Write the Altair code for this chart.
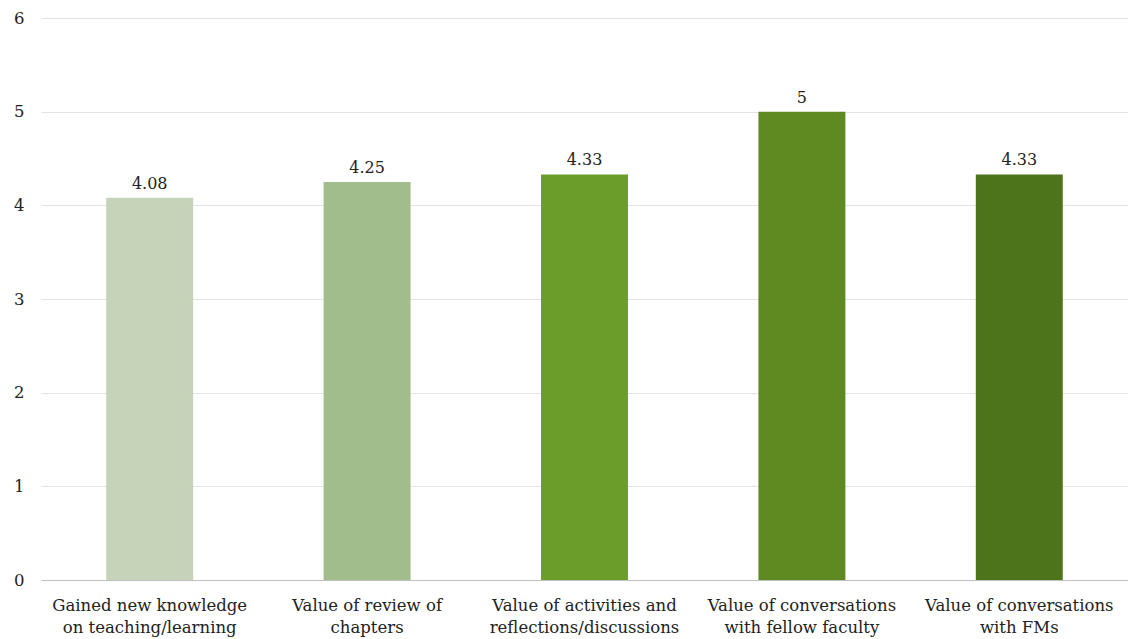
import altair as alt
import pandas as pd

# Survey items (two-line labels) and their mean ratings
categories = [
    "Gained new knowledge\non teaching/learning",
    "Value of review of\nchapters",
    "Value of activities and\nreflections/discussions",
    "Value of conversations\nwith fellow faculty",
    "Value of conversations\nwith FMs",
]
ratings = [4.08, 4.25, 4.33, 5, 4.33]
value_labels = ["4.08", "4.25", "4.33", "5", "4.33"]
bar_colors = ["#c5d3b8", "#a1bd8b", "#6a9e28", "#5e8a21", "#4e741b"]

df = pd.DataFrame({
    "item": categories,
    "rating": ratings,
    "label": value_labels,
    "color": bar_colors,
})

FONT = "DejaVu Serif"

x_enc = alt.X(
    "item:N",
    sort=categories,
    scale=alt.Scale(paddingInner=0.6, paddingOuter=0.3),
    axis=alt.Axis(
        title=None,
        labelAngle=0,
        labelExpr="split(datum.label, '\\n')",
        labelFont=FONT,
        labelFontSize=16.5,
        labelColor="#222222",
        labelPadding=17,
        labelLineHeight=22,
        ticks=False,
        grid=False,
        domainColor="#bfbfbf",
        domainWidth=1.2,
        labelLimit=300,
    ),
)

y_enc = alt.Y(
    "rating:Q",
    scale=alt.Scale(domain=[0, 6], nice=False),
    axis=alt.Axis(
        title=None,
        values=[0, 1, 2, 3, 4, 5, 6],
        format="d",
        labelFont=FONT,
        labelFontSize=16.5,
        labelColor="#222222",
        labelPadding=17,
        ticks=False,
        domain=False,
        gridColor="#e3e3e3",
        gridWidth=1.2,
    ),
)

base = alt.Chart(df).encode(x=x_enc, y=y_enc)

bars = base.mark_bar().encode(color=alt.Color("color:N", scale=None))

text = base.mark_text(
    baseline="bottom", dy=-6, font=FONT, fontSize=16, color="#222222"
).encode(text="label:N")

chart = (
    alt.layer(bars, text)
    .properties(
        width=1087,
        height=562,
        background="white",
        autosize=alt.AutoSizeParams(type="none"),
        padding={"left": 41, "top": 18, "right": 0, "bottom": 59},
    )
    .configure_view(strokeWidth=0)
)

chart.save("out.html", embed_options={"renderer": "svg", "actions": False})
